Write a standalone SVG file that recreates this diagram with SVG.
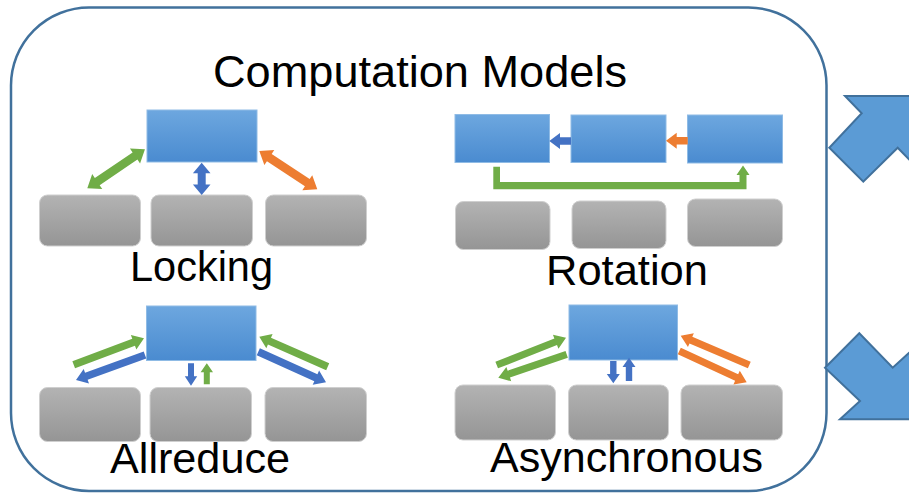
<svg xmlns="http://www.w3.org/2000/svg" width="909" height="495" viewBox="0 0 909 495">
<style>
.lbl{font-family:"Liberation Sans",Arial,sans-serif;fill:#000;text-anchor:middle}
.blue{fill:url(#gBlue);stroke:#8FBBE5;stroke-width:1}
.gray{fill:url(#gGray);stroke:#CFCFCF;stroke-width:1}
.ag{fill:#70AD47}
.ao{fill:#ED7D31}
.ab{fill:#4472C4}
.big{fill:#5B9BD5;stroke:#41719C;stroke-width:2;stroke-linejoin:miter}
</style>
<defs>
<linearGradient id="gBlue" x1="0" y1="0" x2="0" y2="1">
<stop offset="0" stop-color="#6DA7DF"/>
<stop offset="1" stop-color="#4A8BD0"/>
</linearGradient>
<linearGradient id="gGray" x1="0" y1="0" x2="0" y2="1">
<stop offset="0" stop-color="#B3B3B3"/>
<stop offset="1" stop-color="#959595"/>
</linearGradient>
</defs>
<rect width="909" height="495" fill="#FFFFFF"/>
<g id="frame">
<rect x="11" y="7.5" width="815.5" height="483.5" rx="78" ry="78" fill="none" stroke="#41719C" stroke-width="2.5"/>
<text class="lbl" x="420" y="87" font-size="45" textLength="414" lengthAdjust="spacingAndGlyphs">Computation Models</text>
</g>
<g id="locking">
<rect id="lock-server" class="blue" x="147" y="110" width="110" height="52"/>
<rect id="lock-w1" class="gray" x="39.5" y="195" width="101" height="51" rx="8"/>
<rect id="lock-w2" class="gray" x="151" y="195" width="101.5" height="51" rx="8"/>
<rect id="lock-w3" class="gray" x="265.5" y="195" width="101" height="51" rx="8"/>
<text class="lbl" x="201.5" y="281" font-size="42" textLength="143" lengthAdjust="spacingAndGlyphs">Locking</text>
</g>
<g id="rotation">
<rect id="rot-s1" class="blue" x="455" y="114.5" width="94.5" height="48"/>
<rect id="rot-s2" class="blue" x="571" y="115" width="95" height="47.5"/>
<rect id="rot-s3" class="blue" x="687.5" y="115" width="95" height="48"/>
<rect id="rot-w1" class="gray" x="455.5" y="201.5" width="94.5" height="48" rx="8"/>
<rect id="rot-w2" class="gray" x="572" y="201" width="94" height="47.5" rx="8"/>
<rect id="rot-w3" class="gray" x="687.5" y="199" width="95" height="47.5" rx="8"/>
<text class="lbl" x="627" y="285" font-size="42" textLength="162" lengthAdjust="spacingAndGlyphs">Rotation</text>
</g>
<g id="allreduce">
<rect id="all-server" class="blue" x="146.5" y="306" width="109.5" height="54.5"/>
<rect id="all-w1" class="gray" x="39.5" y="387.5" width="101" height="54" rx="8"/>
<rect id="all-w2" class="gray" x="150" y="387.5" width="101.5" height="54" rx="8"/>
<rect id="all-w3" class="gray" x="265" y="387.5" width="101.5" height="54" rx="8"/>
<text class="lbl" x="200" y="473" font-size="42" textLength="180" lengthAdjust="spacingAndGlyphs">Allreduce</text>
</g>
<g id="asynchronous">
<rect id="async-server" class="blue" x="569" y="305" width="108.5" height="55"/>
<rect id="async-w1" class="gray" x="455" y="385" width="100.5" height="55" rx="8"/>
<rect id="async-w2" class="gray" x="568.5" y="385" width="100" height="55" rx="8"/>
<rect id="async-w3" class="gray" x="681" y="385" width="101.5" height="55" rx="8"/>
<text class="lbl" x="626.5" y="472" font-size="42" textLength="273" lengthAdjust="spacingAndGlyphs">Asynchronous</text>
</g>
<g id="connectors">
<!-- Locking: double arrows -->
<path class="ag" transform="translate(87.3,188.3) rotate(-34.06)" d="M0,0 L12,-9 L12,-4.3 L57.6,-4.3 L57.6,-9 L69.6,0 L57.6,9 L57.6,4.3 L12,4.3 L12,9 Z"/>
<path class="ab" transform="translate(201.7,162.7) rotate(90)" d="M0,0 L10.5,-8.8 L10.5,-4 L21.8,-4 L21.8,-8.8 L32.3,0 L21.8,8.8 L21.8,4 L10.5,4 L10.5,8.8 Z"/>
<path class="ao" transform="translate(259.3,151) rotate(33.44)" d="M0,0 L12,-9 L12,-4.3 L57.5,-4.3 L57.5,-9 L69.5,0 L57.5,9 L57.5,4.3 L12,4.3 L12,9 Z"/>
<!-- Rotation -->
<path class="ab" transform="translate(571,141) rotate(180)" d="M0,-3.8 L11,-3.8 L11,-8 L21.7,0 L11,8 L11,3.8 L0,3.8 Z"/>
<path class="ao" transform="translate(687.7,140.7) rotate(180)" d="M0,-3.8 L11,-3.8 L11,-8 L21.7,0 L11,8 L11,3.8 L0,3.8 Z"/>
<path class="ag" d="M493.3,166.7 L500,166.7 L500,182 L739.5,182 L739.5,175 L736.5,175 L743,165.5 L749.5,175 L746.5,175 L746.5,189.3 L493.3,189.3 Z"/>
<!-- Allreduce -->
<path class="ag" transform="translate(73.7,364.7) rotate(-20.58)" d="M0,-3.8 L64,-3.8 L64,-7.8 L75.1,0 L64,7.8 L64,3.8 L0,3.8 Z"/>
<path class="ab" transform="translate(145,355) rotate(160.08)" d="M0,-3.8 L62.4,-3.8 L62.4,-7.8 L73.4,0 L62.4,7.8 L62.4,3.8 L0,3.8 Z"/>
<path class="ab" transform="translate(191,363.3) rotate(90)" d="M0,-3 L13,-3 L13,-6.2 L22.4,0 L13,6.2 L13,3 L0,3 Z"/>
<path class="ag" transform="translate(206.8,384.3) rotate(-90)" d="M0,-3 L12,-3 L12,-6.2 L21,0 L12,6.2 L12,3 L0,3 Z"/>
<path class="ag" transform="translate(327.7,366.7) rotate(-156.3)" d="M0,-3.8 L63.6,-3.8 L63.6,-7.8 L74.7,0 L63.6,7.8 L63.6,3.8 L0,3.8 Z"/>
<path class="ab" transform="translate(258.3,351.7) rotate(24.32)" d="M0,-3.8 L63.2,-3.8 L63.2,-7.8 L74.3,0 L63.2,7.8 L63.2,3.8 L0,3.8 Z"/>
<!-- Asynchronous -->
<path class="ag" transform="translate(496.7,365) rotate(-21.5)" d="M0,-3.6 L63.4,-3.6 L63.4,-7.5 L74.5,0 L63.4,7.5 L63.4,3.6 L0,3.6 Z"/>
<path class="ag" transform="translate(566.7,354.3) rotate(161.1)" d="M0,-3.6 L61.2,-3.6 L61.2,-7.5 L72.3,0 L61.2,7.5 L61.2,3.6 L0,3.6 Z"/>
<path class="ab" transform="translate(613.3,361) rotate(90)" d="M0,-3.2 L13,-3.2 L13,-6.5 L22.3,0 L13,6.5 L13,3.2 L0,3.2 Z"/>
<path class="ab" transform="translate(629,381) rotate(-90)" d="M0,-3.2 L14,-3.2 L14,-6.5 L23.3,0 L14,6.5 L14,3.2 L0,3.2 Z"/>
<path class="ao" transform="translate(749.3,365) rotate(-156.9)" d="M0,-3.6 L63.5,-3.6 L63.5,-7.5 L74.6,0 L63.5,7.5 L63.5,3.6 L0,3.6 Z"/>
<path class="ao" transform="translate(679.3,351) rotate(24.9)" d="M0,-3.6 L63.2,-3.6 L63.2,-7.5 L74.3,0 L63.2,7.5 L63.2,3.6 L0,3.6 Z"/>
</g>
<g id="out-arrows">
<path id="arrow-up" class="big" d="M845,96 L914.4,96 L914.4,165 L897.7,147.7 L863.3,181.7 L829.3,147.7 L861.7,113.3 Z"/>
<path id="arrow-down" class="big" d="M859.3,333.3 L892.7,367.7 L912.7,349.4 L912.7,419.3 L840,419.3 L860,401 L825,367.7 Z"/>
</g>
</svg>
